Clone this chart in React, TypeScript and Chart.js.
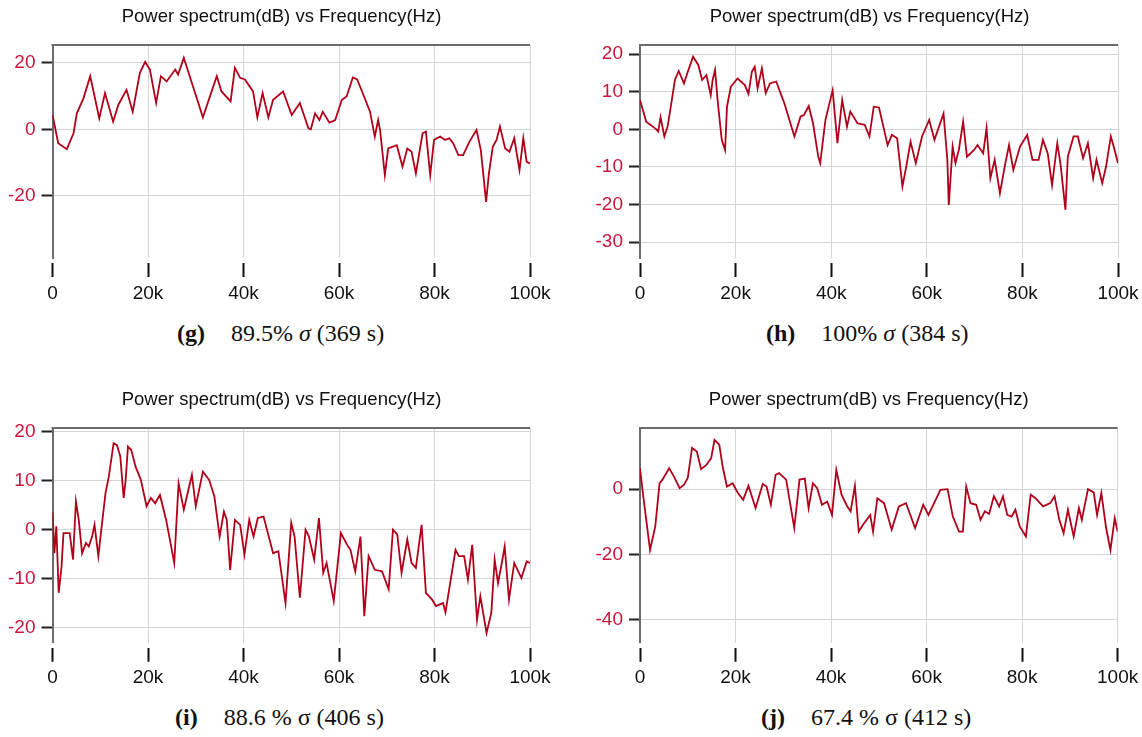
import React, { useEffect, useRef } from 'react';
import { Chart, registerables } from 'chart.js';

Chart.register(...registerables);

const TITLE = 'Power spectrum(dB) vs Frequency(Hz)';
const X_TICKS = [0, 20, 40, 60, 80, 100]; // kHz
const X_TICK_LABELS = ['0', '20k', '40k', '60k', '80k', '100k'];

// Panel (g)
const G_FREQ = [0, 0.4, 1.2, 3.0, 4.4, 5.1, 6.5, 7.9, 9.8, 11.0, 12.7, 13.8, 15.5, 16.8, 18.3, 19.4, 20.4, 21.7, 22.7, 23.9, 25.7, 26.3, 27.5, 28.4, 31.5, 34.4, 35.4, 37.3, 38.2, 39.3, 40.3, 42.0, 42.9, 44.0, 45.2, 46.2, 48.3, 50.1, 51.8, 53.6, 54.1, 55.0, 55.9, 56.6, 58.0, 59.2, 60.6, 61.6, 62.9, 63.8, 65.1, 66.5, 67.5, 68.2, 68.6, 69.6, 70.3, 72.1, 73.3, 74.3, 75.2, 76.1, 77.5, 78.2, 79.1, 79.9, 81.2, 82.2, 83.1, 83.9, 85.0, 86.0, 87.3, 88.8, 89.7, 90.2, 90.8, 91.4, 92.2, 93.0, 93.7, 94.8, 95.7, 96.7, 97.8, 98.6, 99.3, 100];
const G_DB = [4.3, 1.5, -4.2, -6.0, -1.2, 4.8, 9.4, 16.0, 3.3, 10.9, 2.3, 7.4, 11.9, 5.3, 17.0, 20.3, 18.0, 7.9, 16.0, 14.4, 18.0, 16.5, 21.5, 17.5, 3.6, 16.0, 11.4, 8.4, 18.5, 15.5, 15.0, 11.4, 3.6, 10.9, 3.6, 8.9, 11.4, 4.3, 7.9, 0.3, 0.0, 4.8, 2.8, 5.3, 2.0, 2.8, 8.9, 9.9, 15.6, 15.0, 10.4, 5.3, -2.2, 2.8, -0.2, -13.8, -5.8, -4.8, -11.3, -5.8, -6.8, -13.3, -1.2, -0.7, -13.8, -3.2, -2.2, -3.2, -2.7, -4.2, -7.8, -7.8, -3.8, -0.2, -6.3, -13.3, -21.9, -13.3, -5.3, -3.2, 0.8, -5.8, -6.8, -2.7, -12.3, -2.7, -9.8, -10.3];
const G_Y_TICKS = [-20, 0, 20];

// Panel (h)
const H_FREQ = [0, 0.6, 1.3, 2.5, 3.4, 3.8, 4.3, 5.1, 5.8, 6.6, 7.3, 8.1, 9.2, 10.0, 11.1, 12.2, 13.0, 13.9, 14.8, 15.2, 15.7, 16.3, 17.1, 17.8, 18.2, 19.0, 20.4, 21.9, 22.7, 23.4, 24.0, 24.6, 25.5, 26.3, 27.2, 28.5, 30.2, 32.3, 33.6, 34.3, 35.3, 36.2, 37.3, 37.7, 38.8, 40.3, 41.3, 42.3, 43.3, 44.0, 45.5, 47.0, 48.0, 48.9, 50.0, 51.8, 52.7, 53.8, 54.9, 55.7, 56.6, 57.7, 59.0, 60.5, 61.6, 63.5, 64.3, 64.6, 65.4, 66.0, 66.7, 67.6, 68.4, 69.9, 70.6, 71.8, 72.5, 73.3, 74.2, 75.3, 76.3, 77.2, 78.1, 79.5, 81.0, 82.1, 83.4, 84.3, 85.3, 86.2, 87.3, 88.0, 89.0, 89.5, 90.7, 91.6, 92.7, 93.7, 94.8, 95.5, 96.7, 97.5, 98.5, 99.1, 100];
const H_DB = [7.8, 5.1, 2.0, 0.9, 0.0, -0.6, 3.2, -1.9, 0.9, 7.3, 13.1, 15.5, 12.2, 15.3, 19.3, 17.1, 13.1, 14.4, 9.1, 13.1, 15.8, 6.9, -2.8, -5.5, 6.0, 11.3, 13.5, 11.8, 9.4, 15.3, 16.6, 10.9, 16.2, 9.6, 12.2, 12.7, 6.9, -1.9, 3.4, 3.8, 6.2, 1.6, -7.3, -9.0, 2.5, 10.4, -3.7, 7.8, 0.7, 4.7, 1.6, 1.2, -1.9, 6.0, 5.8, -4.2, -1.5, -2.4, -15.2, -9.9, -3.3, -9.0, -1.9, 2.5, -2.8, 4.2, -8.1, -20.1, -4.6, -9.0, -5.5, 2.0, -7.3, -5.5, -4.2, -6.4, 0.3, -13.0, -8.1, -17.0, -9.9, -4.2, -10.8, -4.6, -1.5, -8.1, -8.1, -2.8, -6.4, -14.8, -3.7, -9.5, -21.4, -7.3, -1.9, -1.9, -7.7, -3.7, -13.0, -8.1, -14.3, -9.9, -1.9, -4.6, -9.0];
const H_Y_TICKS = [-30, -20, -10, 0, 10, 20];

// Panel (i)
const I_FREQ = [0, 0.4, 0.8, 1.3, 1.9, 2.3, 3.6, 4.3, 4.9, 5.5, 6.2, 7.0, 7.6, 8.3, 8.8, 9.6, 10.3, 11.1, 11.8, 12.8, 13.5, 14.2, 14.9, 15.3, 15.8, 16.5, 17.4, 18.5, 19.7, 20.6, 21.5, 22.5, 23.8, 25.5, 26.4, 27.5, 28.3, 29.2, 30.0, 31.5, 32.8, 33.9, 35.0, 35.9, 36.5, 37.2, 38.2, 39.3, 40.2, 41.2, 42.1, 43.0, 44.2, 46.2, 47.3, 48.8, 50.0, 50.7, 51.8, 53.0, 53.7, 54.8, 55.8, 56.7, 57.4, 58.9, 60.4, 61.7, 62.4, 63.4, 64.5, 65.3, 66.2, 67.5, 69.0, 70.4, 71.3, 72.2, 73.1, 74.3, 75.2, 76.1, 77.3, 78.2, 79.5, 80.3, 81.8, 82.3, 84.4, 85.1, 86.2, 87.0, 87.9, 88.9, 89.6, 90.9, 91.9, 92.6, 93.3, 94.1, 94.7, 95.6, 96.7, 98.2, 99.3, 100];
const I_DB = [3.7, -4.8, 0.7, -12.9, -7.5, -0.7, -0.7, -6.1, 5.8, 2.0, -4.8, -2.7, -3.4, -1.4, 1.0, -5.4, 0.7, 7.5, 10.9, 17.7, 17.3, 15.0, 6.5, 9.9, 17.0, 16.3, 12.9, 10.2, 4.8, 6.5, 5.4, 7.1, 2.0, -6.8, 9.5, 4.1, 7.5, 11.2, 4.8, 11.9, 10.2, 6.8, -1.4, 3.7, 2.0, -8.2, 2.0, 1.0, -5.1, 2.0, -1.4, 2.4, 2.7, -4.8, -4.4, -15.0, 1.4, -1.4, -13.9, 0.0, -1.4, -6.1, 2.4, -8.8, -6.8, -14.6, -0.7, -3.1, -4.1, -8.5, -1.4, -17.7, -5.4, -8.2, -8.5, -12.2, 0.0, -1.0, -8.8, -2.0, -6.8, -7.8, 1.0, -12.9, -14.3, -15.6, -15.0, -16.9, -4.1, -5.4, -5.4, -10.2, -3.1, -18.4, -13.6, -21.1, -17.0, -6.1, -10.9, -6.8, -3.4, -14.3, -6.8, -9.9, -6.5, -6.8];
const I_Y_TICKS = [-20, -10, 0, 10, 20];

// Panel (j)
const J_FREQ = [0, 0.6, 2.1, 3.2, 4.1, 4.7, 6.1, 7.1, 8.3, 9.2, 10.0, 10.9, 11.9, 12.8, 13.9, 14.9, 15.6, 16.6, 17.3, 18.2, 19.4, 20.5, 21.6, 22.7, 24.2, 25.7, 26.5, 27.4, 28.4, 29.1, 30.6, 32.3, 33.4, 34.5, 35.3, 36.2, 37.1, 38.1, 39.2, 40.2, 41.1, 42.2, 43.4, 44.1, 45.0, 45.8, 46.7, 48.2, 48.8, 49.7, 51.1, 52.7, 54.2, 55.7, 57.6, 59.3, 60.4, 61.4, 62.9, 64.4, 65.5, 66.8, 67.6, 68.3, 69.2, 70.4, 71.3, 72.2, 73.1, 74.1, 75.2, 76.0, 76.9, 77.8, 78.6, 79.5, 80.8, 81.8, 82.8, 84.4, 85.9, 86.8, 87.8, 88.7, 89.6, 90.8, 91.9, 92.5, 93.8, 95.0, 95.7, 96.6, 97.6, 98.5, 99.4, 100];
const J_DB = [6.4, -1.2, -18.6, -11.4, 1.8, 2.9, 6.4, 3.9, 0.3, 1.3, 3.4, 12.6, 11.5, 6.1, 7.4, 9.5, 15.1, 13.6, 6.9, 0.8, 1.8, -1.2, -3.3, 1.0, -5.8, 1.6, 0.8, -4.8, 4.4, 4.9, 2.9, -11.9, 2.9, 3.2, -5.8, 1.8, 0.3, -4.8, -3.8, -7.9, 5.9, -1.7, -5.3, -6.8, 1.0, -13.0, -10.9, -7.9, -13.0, -2.8, -4.3, -12.4, -5.3, -4.3, -11.9, -4.8, -7.9, -4.8, -0.2, 0.0, -8.4, -13.0, -13.0, 0.8, -4.3, -4.8, -9.4, -6.8, -7.6, -2.2, -5.3, -2.2, -7.9, -8.4, -6.3, -11.4, -14.5, -1.7, -2.8, -5.3, -4.3, -2.2, -9.4, -13.5, -6.3, -14.5, -5.8, -9.4, 0.0, -1.0, -7.9, -1.2, -11.9, -18.6, -8.9, -13.0];
const J_Y_TICKS = [-40, -20, 0];

const LINE_COLOR = '#b0001a';
const Y_LABEL_COLOR = '#c8163c';
const GRID_COLOR = '#d5d5d5';
const AXIS_COLOR = '#6c6c6c';
const SANS = '"Liberation Sans", Arial, sans-serif';
const SERIF = '"Liberation Serif", "Times New Roman", serif';

type PanelProps = {
  freq: number[];
  db: number[];
  yTicks: number[];
  yMin: number;
  yMax: number;
  left: number;
  top: number;
  width: number;
  height: number;
  plotLeft: number;
  plotRight: number;
  plotBottom: number;
  titleCenter: number;
};

const topBorder = {
  id: 'topBorder',
  afterDraw(chart: any) {
    const { ctx, chartArea } = chart;
    ctx.save();
    ctx.strokeStyle = AXIS_COLOR;
    ctx.lineWidth = 2;
    ctx.beginPath();
    ctx.moveTo(chartArea.left - 1, chartArea.top);
    ctx.lineTo(chartArea.right, chartArea.top);
    ctx.stroke();
    ctx.restore();
  },
};

function Panel(p: PanelProps) {
  const ref = useRef<HTMLCanvasElement | null>(null);
  useEffect(() => {
    if (!ref.current) return;
    const data = p.freq.map((x, i) => ({ x, y: p.db[i] }));
    const titleCenterPlugin = {
      id: 'titleCenter',
      afterLayout(chart: any) {
        const tb = chart.titleBlock;
        if (tb) {
          tb.left = p.titleCenter - 250;
          tb.right = p.titleCenter + 250;
        }
      },
    };
    const chart = new Chart(ref.current, {
      type: 'line',
      data: {
        datasets: [
          {
            data,
            borderColor: LINE_COLOR,
            borderWidth: 1.8,
            pointRadius: 0,
            tension: 0,
            fill: false,
          },
        ],
      },
      options: {
        animation: false,
        responsive: false,
        maintainAspectRatio: false,
        devicePixelRatio: 1,
        layout: {
          padding: { left: 0, right: p.width - p.plotRight, top: 0, bottom: 0 },
        },
        plugins: {
          legend: { display: false },
          tooltip: { enabled: false },
          title: {
            display: true,
            text: TITLE,
            color: '#111',
            font: { family: SANS, size: 18.5, weight: 'normal', lineHeight: 1.2 },
            padding: { top: 6, bottom: 16.8 },
          },
        },
        scales: {
          x: {
            type: 'linear',
            min: 0,
            max: 100,
            afterBuildTicks: (scale: any) => {
              scale.ticks = X_TICKS.map((v) => ({ value: v }));
            },
            afterFit: (scale: any) => {
              scale.height = p.height - p.plotBottom;
            },
            ticks: {
              color: '#111',
              font: { family: SANS, size: 19 },
              padding: 5,
              maxRotation: 0,
              autoSkip: false,
              callback: (value: any) => X_TICK_LABELS[X_TICKS.indexOf(Number(value))],
            },
            grid: {
              color: GRID_COLOR,
              lineWidth: 1,
              drawTicks: true,
              tickLength: 19,
              tickColor: '#111',
              tickWidth: 2,
              tickBorderDash: [0, 5, 14, 60],
            },
            border: { display: false },
          },
          y: {
            type: 'linear',
            min: p.yMin,
            max: p.yMax,
            afterBuildTicks: (scale: any) => {
              scale.ticks = p.yTicks.map((v) => ({ value: v }));
            },
            afterFit: (scale: any) => {
              scale.width = p.plotLeft;
            },
            ticks: {
              color: Y_LABEL_COLOR,
              font: { family: SANS, size: 19 },
              padding: 6,
              callback: (value: any) => String(value),
            },
            grid: {
              color: GRID_COLOR,
              lineWidth: 1,
              tickLength: 11,
              tickColor: '#222',
              tickWidth: 2,
            },
            border: { display: true, color: AXIS_COLOR, width: 2 },
          },
        },
      },
      plugins: [topBorder, titleCenterPlugin],
    } as any);
    return () => chart.destroy();
  }, []);
  return (
    <canvas
      ref={ref}
      width={p.width}
      height={p.height}
      style={{ position: 'absolute', left: p.left, top: p.top, width: p.width, height: p.height }}
    />
  );
}

function Caption(props: { left: number; top: number; tag: string; text: React.ReactNode }) {
  return (
    <div
      style={{
        position: 'absolute',
        left: props.left,
        top: props.top,
        fontFamily: SERIF,
        fontSize: 24,
        lineHeight: '24px',
        whiteSpace: 'pre',
        color: '#111',
      }}
    >
      <span style={{ fontWeight: 'bold' }}>{props.tag}</span>
      <span style={{ display: 'inline-block', width: 26 }} />
      {props.text}
    </div>
  );
}

export default function App() {
  return (
    <div
      style={{
        position: 'absolute',
        left: 0,
        top: 0,
        width: 1142,
        height: 737,
        overflow: 'hidden',
        background: '#fff',
      }}
    >
      <Panel freq={G_FREQ} db={G_DB} yTicks={G_Y_TICKS} yMin={-38.8} yMax={25.4}
        left={0} top={0} width={571} height={305} plotLeft={52.5} plotRight={530} plotBottom={258} titleCenter={281.5} />
      <Panel freq={H_FREQ} db={H_DB} yTicks={H_Y_TICKS} yMin={-34.2} yMax={22.4}
        left={571} top={0} width={600} height={305} plotLeft={69} plotRight={547} plotBottom={258} titleCenter={298.6} />
      <Panel freq={I_FREQ} db={I_DB} yTicks={I_Y_TICKS} yMin={-23.1} yMax={20.8}
        left={0} top={383.3} width={571} height={305} plotLeft={52.5} plotRight={530} plotBottom={259.7} titleCenter={281.5} />
      <Panel freq={J_FREQ} db={J_DB} yTicks={J_Y_TICKS} yMin={-47} yMax={18.7}
        left={571} top={383.3} width={600} height={305} plotLeft={69} plotRight={546.6} plotBottom={259.7} titleCenter={297.7} />
      <Caption left={177} top={321} tag="(g)" text={<>89.5% <i>σ</i> (369 s)</>} />
      <Caption left={766} top={321} tag="(h)" text={<>100% <i>σ</i> (384 s)</>} />
      <Caption left={175} top={705} tag="(i)" text={<>88.6 % σ (406 s)</>} />
      <Caption left={761} top={705} tag="(j)" text={<>67.4 % σ (412 s)</>} />
    </div>
  );
}
